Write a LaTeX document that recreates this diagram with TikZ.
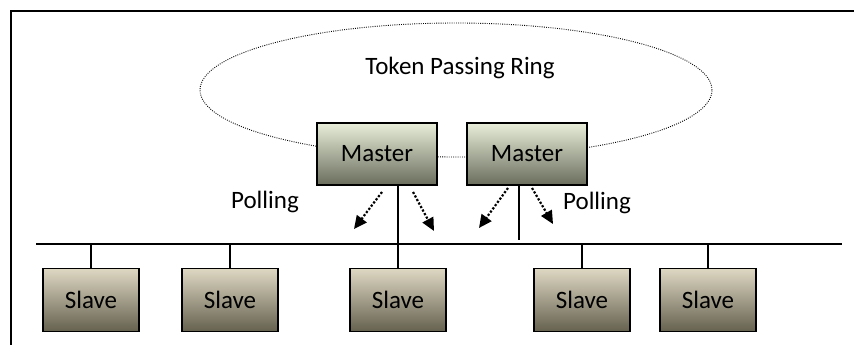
\documentclass[tikz,border=0pt]{standalone}
\usepackage{fontspec}
\setmainfont{Carlito}
\usetikzlibrary{arrows.meta,shapes.geometric}
\definecolor{mtop}{HTML}{E8EEDA}
\definecolor{mbot}{HTML}{6A6D5C}
\definecolor{stop}{HTML}{DED8C3}
\definecolor{sbot}{HTML}{65614F}
\tikzset{
  lbl/.style={font=\fontsize{25}{30}\selectfont, inner sep=0pt},
  masterbox/.style={draw=black, line width=1.4pt, minimum width=120pt, minimum height=62pt,
    top color=mtop, bottom color=mbot, inner sep=0pt, font=\fontsize{25}{30}\selectfont},
  slavebox/.style={draw=black, line width=1.4pt, minimum width=96pt, minimum height=63pt,
    top color=stop, bottom color=sbot, inner sep=0pt, font=\fontsize{25}{30}\selectfont},
  ring/.style={draw, ellipse, dash pattern=on 0.9pt off 1.3pt, line width=0.9pt, minimum width=512pt, minimum height=134pt},
  poll/.style={dash pattern=on 2.2pt off 1.8pt, line width=2.2pt, -{Triangle[length=13pt,width=12pt]}},
  wire/.style={line width=1.3pt},
  bus/.style={line width=2pt}
}
\begin{document}
\begin{tikzpicture}[x=1pt,y=-1pt]
\useasboundingbox (0,0) rectangle (854,345);
% frame
\draw[line width=2pt] (11,346) -- (11,11) -- (855,11);
% ring
\node[ring] (ring) at (456,90) {};
\node[lbl] (ringlbl) at (460,68) {Token Passing Ring};
% masters
\node[masterbox] (m1) at (377,154) {Master};
\node[masterbox] (m2) at (527,154) {Master};
% bus
\coordinate (busL) at (36,244);
\coordinate (busR) at (842,244);
\draw[bus] (busL) -- (busR);
% master connections
\coordinate (m1b) at (398,244);
\coordinate (m2b) at (519,240);
\draw[wire] (m1.south -| m1b) -- (m1b);
\draw[wire] (m2.south -| m2b) -- (m2b);
% slaves
\node[slavebox] (s1) at (91,300) {Slave};
\node[slavebox] (s2) at (230,300) {Slave};
\node[slavebox] (s3) at (398,300) {Slave};
\node[slavebox] (s4) at (582,300) {Slave};
\node[slavebox] (s5) at (708,300) {Slave};
\foreach \s in {s1,s2,s3,s4,s5}{
  \draw[wire] (\s.north) -- (\s.north |- busL);
}
% polling arrows
\coordinate (a1s) at (382,192); \coordinate (a1e) at (354,229);
\coordinate (a2s) at (413,192); \coordinate (a2e) at (434,231);
\coordinate (a3s) at (508,188); \coordinate (a3e) at (479,228);
\coordinate (a4s) at (532,188); \coordinate (a4e) at (553,224);
\draw[poll] (a1s) -- (a1e);
\draw[poll] (a2s) -- (a2e);
\draw[poll] (a3s) -- (a3e);
\draw[poll] (a4s) -- (a4e);
\node[lbl] (p1) at (265,202) {Polling};
\node[lbl] (p2) at (597,203) {Polling};
\end{tikzpicture}
\end{document}
